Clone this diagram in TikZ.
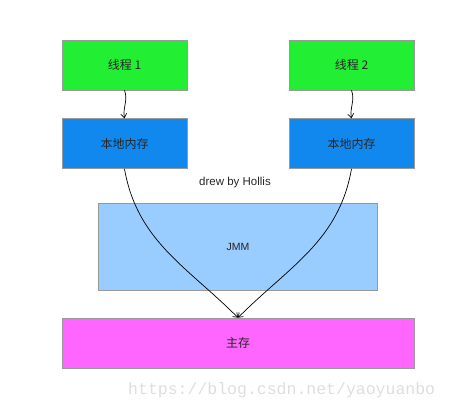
\documentclass[tikz,border=0pt]{standalone}
\usepackage{fontspec}
\setmainfont{Liberation Sans}
\newfontfamily\cjk{Noto Sans CJK SC}
\newfontfamily\wmfont{Liberation Mono}
\usepackage{xcolor}
\definecolor{colorThread}{RGB}{34,238,51}
\definecolor{colorLocal}{RGB}{17,136,238}
\definecolor{colorJMM}{RGB}{153,204,255}
\definecolor{colorMain}{RGB}{255,102,255}
\usetikzlibrary{arrows.meta, positioning}
\tikzset{
  membox/.style={draw=gray!80, line width=0.6pt, minimum width=125pt, minimum height=50pt, inner sep=0pt, font=\cjk\fontsize{12}{14}\selectfont, text=black!85},
  flow/.style={-{Straight Barb[length=4pt,width=6pt]}, line width=0.7pt, black}
}
\begin{document}
\begin{tikzpicture}[x=1pt, y=-1pt, node distance=28pt]
\useasboundingbox (0,0) rectangle (450,411);
\node[membox, fill=colorThread] (t1) at (124.5,65) {线程 1};
\node[membox, fill=colorThread] (t2) at (351.5,65) {线程 2};
\node[membox, fill=colorLocal, below=of t1] (l1) {本地内存};
\node[membox, fill=colorLocal, below=of t2] (l2) {本地内存};
\node[membox, fill=colorJMM, minimum width=279pt, minimum height=87pt, font=\fontsize{10.5}{12}\selectfont] (jmm) at (238,247) {JMM};
\node[membox, fill=colorMain, minimum width=352pt] (main) at (238,343) {主存};
\node[font=\fontsize{11.5}{13}\selectfont, text=black!85] (sign) at (235,183) {drew by Hollis};
\node[font=\wmfont\fontsize{16.5}{18}\selectfont, text=black!13, anchor=west, inner sep=0pt] (wm) at (128,390) {https://blog.csdn.net/yaoyuanbo};
% thread to local memory
\draw[flow] (t1.south) to[out=-70, in=100] (l1.north);
\draw[flow] (t2.south) to[out=-70, in=100] (l2.north);
% local memory to main memory
\draw[flow] (l1.south) to[out=-80, in=135] (main.north);
\draw[flow] (l2.south) to[out=-100, in=45] (main.north);
\end{tikzpicture}
\end{document}
